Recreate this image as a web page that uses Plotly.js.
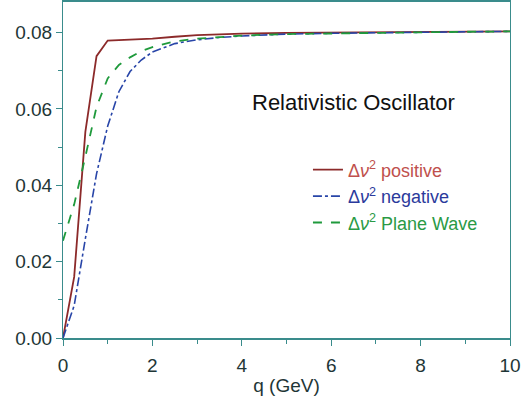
<!DOCTYPE html>
<html>
<head>
<meta charset="utf-8">
<script src="https://cdn.plot.ly/plotly-3.0.1.min.js"></script>
<style>
html,body{margin:0;padding:0;background:#fff;}
#chart{width:528px;height:400px;}
</style>
</head>
<body>
<div id="chart"></div>
<script>
const q = [0, 0.25, 0.5, 0.75, 1, 1.25, 1.5, 1.75, 2, 2.5, 3, 3.5, 4, 5, 6, 7, 8, 9, 10];
const positive = [0, 0.016, 0.054, 0.0738, 0.0779, 0.0780, 0.0781, 0.0782, 0.0784, 0.0789, 0.0793, 0.0795, 0.0797, 0.0799, 0.0800, 0.0801, 0.0801, 0.0802, 0.0803];
const negative = [0, 0.0085, 0.026, 0.043, 0.0555, 0.0645, 0.0698, 0.0728, 0.0749, 0.0771, 0.0781, 0.0787, 0.0791, 0.0796, 0.0798, 0.0800, 0.0801, 0.0802, 0.0803];
const planeWave = [0.0255, 0.035, 0.0475, 0.0605, 0.068, 0.0715, 0.0735, 0.0751, 0.0762, 0.0777, 0.0784, 0.0789, 0.0792, 0.0796, 0.0798, 0.0800, 0.0801, 0.0802, 0.0803];
const seriesNames = [
  '<span style="color:#c0504d">Δ<i>ν</i><sup>2</sup> positive</span>',
  '<span style="color:#2b3a9c">Δ<i>ν</i><sup>2</sup> negative</span>',
  '<span style="color:#2a9a45">Δ<i>ν</i><sup>2</sup> Plane Wave</span>'
];
const xTickVals = [0, 2, 4, 6, 8, 10];
const yTickVals = [0, 0.02, 0.04, 0.06, 0.08];
const yTickText = ['0.00', '0.02', '0.04', '0.06', '0.08'];

const axisColor = '#3a8c8c';
const textColor = '#1e3636';
const font = 'Liberation Sans, Arial, sans-serif';

const traces = [
  {x: q, y: positive, name: seriesNames[0], mode: 'lines', line: {color: '#8c2a2a', width: 1.8, dash: 'solid'}},
  {x: q, y: negative, name: seriesNames[1], mode: 'lines', line: {color: '#2845a8', width: 1.6, dash: 'dashdot'}},
  {x: q, y: planeWave, name: seriesNames[2], mode: 'lines', line: {color: '#1f9a3c', width: 1.8, dash: 'dash'}}
];

const layout = {
  width: 528, height: 400,
  margin: {l: 63, r: 18, t: 2, b: 62},
  paper_bgcolor: '#fff', plot_bgcolor: '#fff',
  font: {family: font, size: 16, color: textColor},
  showlegend: true,
  legend: {x: 0.548, y: 0.555, xanchor: 'left', yanchor: 'top', bgcolor: 'rgba(0,0,0,0)',
           font: {family: font, size: 18}, tracegroupgap: 0, itemwidth: 30},
  xaxis: {
    range: [0, 10], tickvals: xTickVals, ticks: 'outside', ticklen: 6, tickcolor: axisColor,
    showline: true, linecolor: axisColor, linewidth: 2, mirror: true, showgrid: false, zeroline: false,
    ticklabelstandoff: 3,
    tickfont: {family: font, size: 19, color: textColor},
    minor: {dtick: 1, ticks: 'outside', ticklen: 4, tickcolor: axisColor},
    title: {text: 'q (GeV)', font: {family: font, size: 19, color: textColor}, standoff: 4}
  },
  yaxis: {
    range: [0, 0.088], tickvals: yTickVals, ticktext: yTickText, ticks: 'outside', ticklen: 6, tickcolor: axisColor,
    showline: true, linecolor: axisColor, linewidth: 1, mirror: true, showgrid: false, zeroline: false,
    tickfont: {family: font, size: 19, color: textColor},
    minor: {dtick: 0.01, ticks: 'outside', ticklen: 4, tickcolor: axisColor}
  },
  annotations: [{
    text: 'Relativistic Oscillator', xref: 'paper', yref: 'paper', x: 0.651, y: 0.70,
    xanchor: 'center', yanchor: 'middle', showarrow: false,
    font: {family: font, size: 22, color: '#111'}
  }]
};

Plotly.newPlot('chart', traces, layout, {displayModeBar: false, staticPlot: true});
</script>
</body>
</html>
